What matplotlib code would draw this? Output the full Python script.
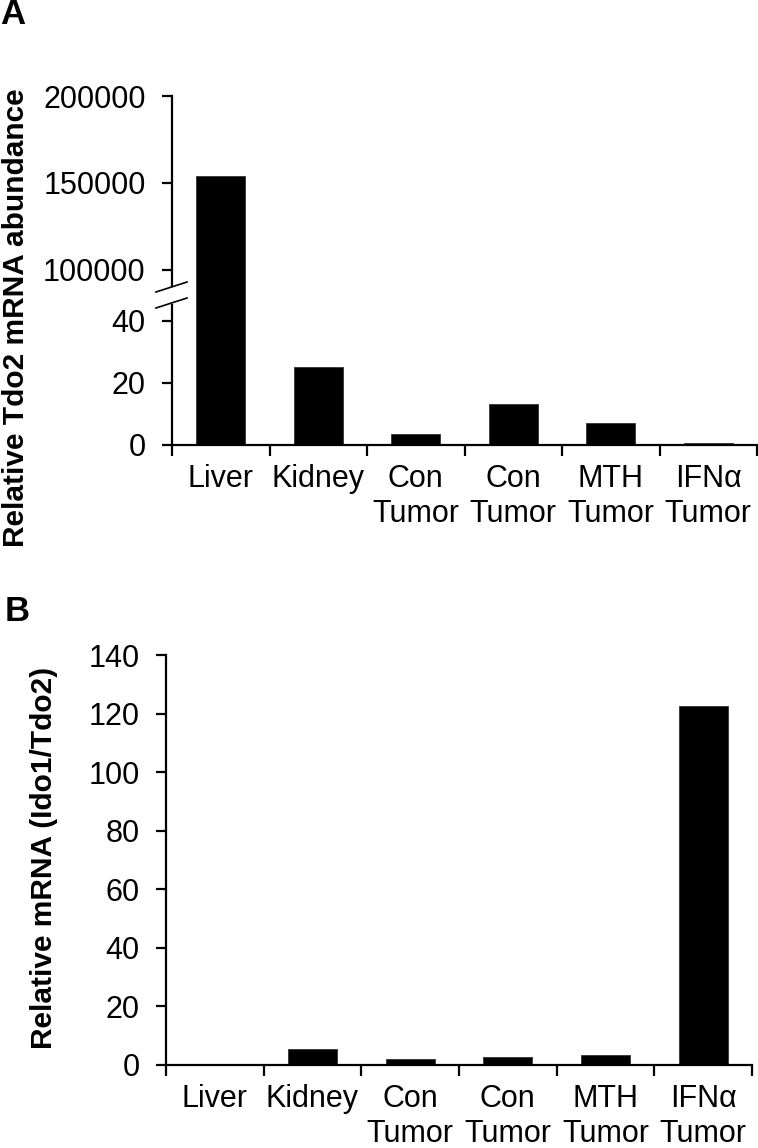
import matplotlib
matplotlib.use("Agg")
import matplotlib.pyplot as plt
from matplotlib.ticker import FixedLocator

plt.rcParams['font.family'] = ['Liberation Sans', 'DejaVu Sans']

categories = ["Liver", "Kidney", "Con\nTumor", "Con\nTumor", "MTH\nTumor", "IFNα\nTumor"]
tdo2_values = [154000, 25, 3.5, 13.3, 7.0, 0.8]
ratio_values = [0.0, 5.6, 2.0, 2.7, 3.4, 122.5]

upper_ticks = [100000, 150000, 200000]
lower_ticks = [0, 20, 40]
b_ticks = [0, 20, 40, 60, 80, 100, 120, 140]

W, H = 758, 1148
fig = plt.figure(figsize=(W / 100, H / 100), dpi=100)

def fx(px):
    return px / W

def fy(py):
    return 1 - py / H

YFS = 22
XFS = 22
LFS = 21.5
LS = 1.25
XPAD = 13.5
LW = 1.6
x = list(range(len(categories)))
bounds = [i - 0.5 for i in range(len(categories) + 1)]

# ---------- Panel A ----------
a_left, a_right = 172, 757
a_top, a_mid, a_bot = 96, 296, 445
axU = fig.add_axes([fx(a_left), fy(a_mid), fx(a_right - a_left), fy(a_top) - fy(a_mid)])
axL = fig.add_axes([fx(a_left), fy(a_bot), fx(a_right - a_left), fy(a_mid) - fy(a_bot)])

for ax in (axU, axL):
    ax.bar(x, tdo2_values, width=0.5, color='black', edgecolor='#333333', linewidth=0.6)
    ax.set_xlim(-0.5, len(categories) - 0.5)
    for s in ('top', 'right'):
        ax.spines[s].set_visible(False)
    ax.spines['left'].set_linewidth(LW)
    ax.tick_params(axis='y', direction='out', length=7, width=LW, pad=12, labelsize=YFS)

axU.set_ylim(85000, 200000)
axU.set_yticks(upper_ticks)
axU.set_yticklabels([str(t) for t in upper_ticks])
axU.spines['bottom'].set_visible(False)
axU.spines['left'].set_bounds(90500, 200000)
axU.tick_params(axis='x', which='both', bottom=False, labelbottom=False)

axL.set_ylim(0, 48)
axL.set_yticks(lower_ticks)
axL.spines['left'].set_bounds(0, 45)
axL.spines['bottom'].set_linewidth(LW)
axL.set_xticks(x)
axL.set_xticklabels(categories, fontsize=XFS, linespacing=LS)
axL.xaxis.set_minor_locator(FixedLocator(bounds))
axL.tick_params(axis='x', which='major', length=0, pad=XPAD)
axL.tick_params(axis='x', which='minor', length=8, width=LW, direction='out')

# break marks across the axis gap
for py in (287, 303):
    fig.add_artist(plt.Line2D([fx(156), fx(187)], [fy(py + 5), fy(py - 5)],
                              color='black', lw=1.2, transform=fig.transFigure))

fig.text(fx(16), fy(318), "Relative Tdo2 mRNA abundance", rotation=90,
         ha='center', va='center', fontsize=LFS, fontweight='bold')
fig.text(fx(0), fy(15), "A", ha='left', va='center', fontsize=25, fontweight='bold')

# ---------- Panel B ----------
b_left, b_right = 166, 752
b_top, b_bot = 655, 1065
axB = fig.add_axes([fx(b_left), fy(b_bot), fx(b_right - b_left), fy(b_top) - fy(b_bot)])
axB.bar(x, ratio_values, width=0.5, color='black', edgecolor='#333333', linewidth=0.6)
axB.set_xlim(-0.5, len(categories) - 0.5)
axB.set_ylim(0, 140)
axB.set_yticks(b_ticks)
for s in ('top', 'right'):
    axB.spines[s].set_visible(False)
axB.spines['left'].set_linewidth(LW)
axB.spines['bottom'].set_linewidth(LW)
axB.tick_params(axis='y', direction='out', length=7, width=LW, pad=12, labelsize=YFS)
axB.set_xticks(x)
axB.set_xticklabels(categories, fontsize=XFS, linespacing=LS)
axB.xaxis.set_minor_locator(FixedLocator(bounds))
axB.tick_params(axis='x', which='major', length=0, pad=XPAD)
axB.tick_params(axis='x', which='minor', length=8, width=LW, direction='out')

fig.text(fx(44), fy(858), "Relative mRNA (Ido1/Tdo2)", rotation=90,
         ha='center', va='center', fontsize=LFS, fontweight='bold')
fig.text(fx(5), fy(612), "B", ha='left', va='center', fontsize=25, fontweight='bold')

fig.savefig("out.png", dpi=100, facecolor='white')
